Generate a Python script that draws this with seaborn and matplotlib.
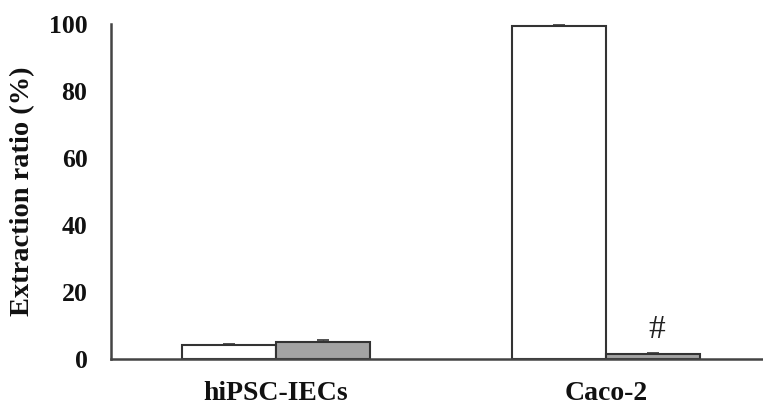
import matplotlib
matplotlib.use("Agg")
import matplotlib.pyplot as plt
import seaborn as sns
import pandas as pd
import numpy as np

cells = ["hiPSC-IECs", "hiPSC-IECs", "Caco-2", "Caco-2"]
condition = ["A", "B", "A", "B"]
ratio = [4.2, 5.1, 99.3, 1.5]
err = [0.4, 0.5, 0.3, 0.2]
yticks = [0, 20, 40, 60, 80, 100]

df = pd.DataFrame({"cells": cells, "condition": condition, "ratio": ratio})

sns.set_style("white")
plt.rcParams["font.family"] = ["Liberation Serif", "DejaVu Serif"]

fig = plt.figure(figsize=(7.63, 4.09), dpi=100)
ax = fig.add_axes([111 / 763, 1 - 359 / 409, 660 / 763, (359 - 24) / 409])

sns.barplot(data=df, x="cells", y="ratio", hue="condition",
            palette={"A": "#ffffff", "B": "#a3a3a3"},
            width=0.57, edgecolor="#333333", linewidth=1.5,
            errorbar=None, legend=False, ax=ax, zorder=2)

# error bars (upper caps only)
order = sorted(ax.patches[:4], key=lambda p: p.get_x())
for p, e in zip(order, err):
    xc = p.get_x() + p.get_width() / 2
    h = p.get_height()
    ax.errorbar(xc, h, yerr=[[0], [e]], fmt="none", ecolor="#333333",
                elinewidth=1, capsize=4, capthick=1.2, zorder=3)

gray_caco = order[3]
ax.text(gray_caco.get_x() + gray_caco.get_width() / 2 + 0.01, 8.8, "#",
        ha="center", va="center", fontsize=24, color="#222222")

ax.set_xlim(-0.5, 1.5)
ax.set_ylim(0, 100)
ax.set_yticks(yticks)
ax.set_yticklabels([str(t) for t in yticks], fontsize=18.5, fontweight="bold")
ax.set_xticks([0, 1])
ax.set_xticklabels(["hiPSC-IECs", "Caco-2"], fontsize=20, fontweight="bold")
ax.tick_params(axis="x", which="major", length=0, pad=16, colors="#111111")
ax.set_xticks([-0.5, 0.5, 1.5], minor=True)
ax.tick_params(axis="x", which="minor", length=7, width=1.5, direction="out",
               color="#444444")
ax.tick_params(axis="y", which="major", length=7, width=1.5, direction="out",
               color="#444444", pad=10, labelcolor="#111111")

ax.set_xlabel("")
ax.set_ylabel("Extraction ratio (%)", fontsize=20.5, fontweight="bold",
              color="#111111", labelpad=10)

for s in ["top", "right"]:
    ax.spines[s].set_visible(False)
for s in ["left", "bottom"]:
    ax.spines[s].set_color("#444444")
    ax.spines[s].set_linewidth(1.8)
ax.spines["bottom"].set_zorder(4)

fig.savefig("out.png", dpi=100)
